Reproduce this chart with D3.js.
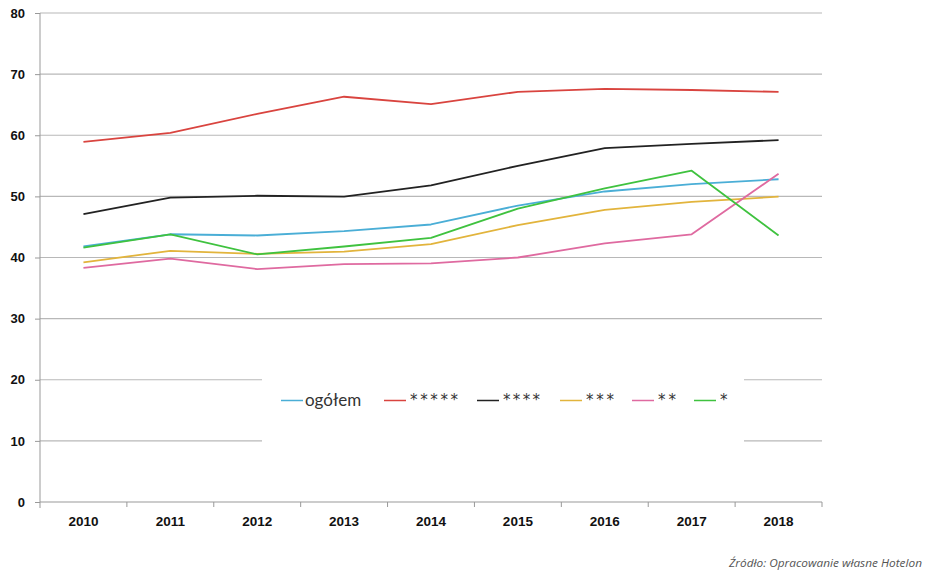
<!DOCTYPE html>
<html><head><meta charset="utf-8">
<script src="https://cdn.jsdelivr.net/npm/d3@7"></script>
<style>body{margin:0;background:#fff}</style>
</head><body>
<svg id="c" width="929" height="575"></svg>
<script>
const years = ["2010","2011","2012","2013","2014","2015","2016","2017","2018"];
const yTicks = [0,10,20,30,40,50,60,70,80];
const seriesNames = ["ogółem","*****","****","***","**","*"];
const seriesColors = ["#4aaed6","#d9443f","#222222","#e2b43c","#df6aa0","#3fc23f"];
const ogolem = [41.8,43.8,43.6,44.3,45.4,48.5,50.8,52.0,52.8];
const s5 = [58.9,60.4,63.5,66.3,65.1,67.1,67.6,67.4,67.1];
const s4 = [47.1,49.8,50.1,49.95,51.8,55.0,57.9,58.6,59.2];
const s3 = [39.2,41.1,40.6,40.95,42.2,45.3,47.8,49.1,49.95];
const s2 = [38.3,39.8,38.1,38.9,39.05,40.0,42.3,43.8,53.7];
const s1 = [41.6,43.8,40.5,41.8,43.2,48.0,51.3,54.2,43.6];
const seriesValues = [ogolem,s5,s4,s3,s2,s1];

const svg = d3.select("#c");
const x = d3.scaleBand().domain(years).range([40,822]);
const y = d3.scaleLinear().domain([0,80]).range([502,13]);

// gridlines
const grid = svg.append("g");
yTicks.filter(t=>t>0).forEach(t=>{
  grid.append("line").attr("x1",40).attr("x2",822).attr("y1",y(t)).attr("y2",y(t))
    .attr("stroke","#b8b8b8").attr("stroke-width",1.2);
});
// legend background covering gridlines
svg.append("rect").attr("x",262).attr("y",365).attr("width",482).attr("height",85).attr("fill","#fff");

// y axis
const yAxis = d3.axisLeft(y).tickValues(yTicks).tickSize(5).tickPadding(6);
const ga = svg.append("g").attr("transform","translate(40,0)").call(yAxis);
ga.select(".domain").attr("stroke","#999").attr("d","M-0,13V508");
ga.selectAll(".tick line").attr("stroke","#999");
ga.selectAll(".tick text").attr("font-family","Liberation Sans, Arial, sans-serif").attr("font-weight","bold").attr("font-size",13).attr("fill","#111").attr("dx",-4);

// x axis
const xAxis = d3.axisBottom(x).tickSize(0).tickPadding(14);
const gx = svg.append("g").attr("transform","translate(0,502)").call(xAxis);
gx.select(".domain").attr("stroke","#999").attr("d","M40,0H822");
gx.selectAll(".tick text").attr("font-family","Liberation Sans, Arial, sans-serif").attr("font-weight","bold").attr("font-size",13.5).attr("fill","#111");
years.forEach(yr=>{
  const bx = x(yr)+x.bandwidth();
  gx.append("line").attr("x1",bx).attr("x2",bx).attr("y1",0).attr("y2",5).attr("stroke","#999");
});

// lines
const line = d3.line().x((d,i)=>x(years[i])+x.bandwidth()/2).y(d=>y(d));
seriesValues.forEach((vals,k)=>{
  svg.append("path").datum(vals).attr("d",line).attr("fill","none")
    .attr("stroke",seriesColors[k]).attr("stroke-width",1.8).attr("stroke-linejoin","round");
});

// legend
const legX = [281,384,477,560,632,694];
const starLen = [0,48,37,28,18,0];
const lg = svg.append("g");
seriesNames.forEach((n,k)=>{
  lg.append("line").attr("x1",legX[k]).attr("x2",legX[k]+22).attr("y1",400.5).attr("y2",400.5)
    .attr("stroke",seriesColors[k]).attr("stroke-width",1.5);
  const t = lg.append("text").attr("x",legX[k]+(k===0?24:26)).attr("y",k===0?406:405).text(n)
    .attr("font-family",k===0?"Lato, 'Open Sans', sans-serif":"'DejaVu Sans', sans-serif")
    .attr("font-size",k===0?17:15)
    .attr("fill","#333");
  if (starLen[k]>0) t.attr("textLength",starLen[k]).attr("lengthAdjust","spacing");
});

// source
svg.append("text").attr("x",922).attr("y",567).attr("text-anchor","end")
  .attr("font-family","'Open Sans', sans-serif").attr("font-style","italic").attr("font-size",11.5)
  .attr("fill","#555").attr("textLength",193).attr("lengthAdjust","spacingAndGlyphs")
  .text("Źródło: Opracowanie własne Hotelon");
</script>
</body></html>
